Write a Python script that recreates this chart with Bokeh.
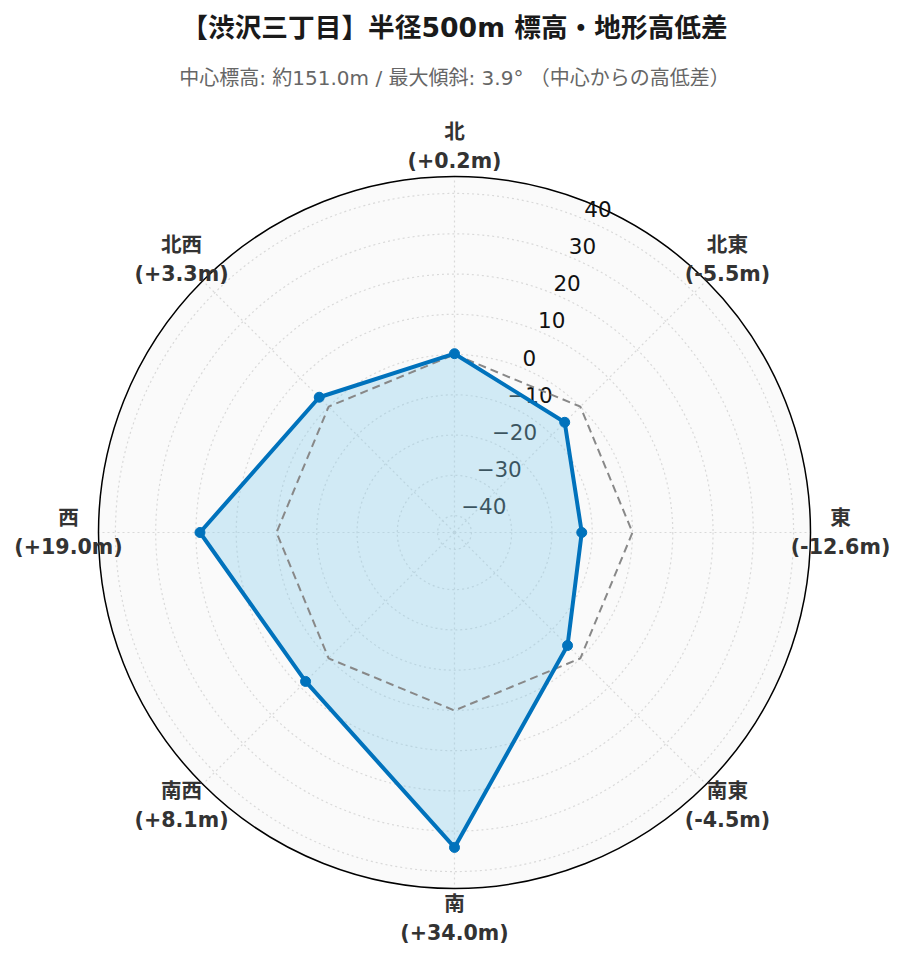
import numpy as np
from bokeh.plotting import figure
from bokeh.models import Range1d
from bokeh.core.properties import value
from bokeh.embed import file_html
from bokeh.resources import INLINE

# ---------------- data ----------------
title_text = "【渋沢三丁目】半径500m 標高・地形高低差"
subtitle_text = "中心標高: 約151.0m / 最大傾斜: 3.9° （中心からの高低差）"
directions = ["北", "北東", "東", "南東", "南", "南西", "西", "北西"]
direction_angles = [0, 45, 90, 135, 180, 225, 270, 315]   # degrees clockwise from north
elevation_diff = [0.2, -5.5, -12.6, -4.5, 34.0, 8.1, 19.0, 3.3]
reference_level = [0, 0, 0, 0, 0, 0, 0, 0]
radial_ticks = [-40, -30, -20, -10, 0, 10, 20, 30, 40]
radial_range = [-44.2, 44.2]
radial_axis_angle = 22.5

# ---------------- layout ----------------
W, H = 890, 950
CX, CY = 454, 532          # centre of polar area, px from frame left / top
R = 356                    # outer radius, px
LABEL_R = 386

FONT = value("DejaVu Sans, Noto Sans CJK JP")


def rad(v):
    v = np.asarray(v, dtype=float)
    return (v - radial_range[0]) / (radial_range[1] - radial_range[0]) * R


def to_xy(r, ang_deg):
    a = np.deg2rad(np.asarray(ang_deg, dtype=float))
    return r * np.sin(a), r * np.cos(a)


p = figure(width=W, height=H, output_backend="svg", toolbar_location=None,
           x_range=Range1d(-CX, W - CX), y_range=Range1d(-(H - CY), CY),
           x_axis_location=None, y_axis_location=None, min_border=0)
p.grid.visible = False
p.outline_line_color = None
p.background_fill_color = "white"

# polar background
p.circle(x=[0], y=[0], radius=R, fill_color="#fafafa", line_color=None)

# radial grid circles
p.circle(x=[0] * len(radial_ticks), y=[0] * len(radial_ticks), radius=rad(radial_ticks),
         fill_color=None, line_color="#d9d9d9", line_width=1.2, line_dash="2 3")

# angular grid lines
gx, gy = to_xy(np.full(len(direction_angles), R), direction_angles)
p.segment(x0=[0] * len(gx), y0=[0] * len(gy), x1=gx, y1=gy,
          line_color="#d9d9d9", line_width=1.2, line_dash="2 3")

# outer circle
p.circle(x=[0], y=[0], radius=R, fill_color=None, line_color="black", line_width=1.5)

# radial tick labels
tr = rad(radial_ticks)
tx, ty = to_xy(tr, [radial_axis_angle] * len(radial_ticks))
tick_labels = [("\u2212" + str(abs(t))) if t < 0 else str(t) for t in radial_ticks]
p.text(x=tx, y=ty + 10.5, text=tick_labels, text_font=FONT, text_font_size="21.5px",
       text_color="#111111", text_align="left", text_baseline="middle")

# data
dr = rad(elevation_diff)
dx, dy = to_xy(dr, direction_angles)
p.patch(x=dx, y=dy, fill_color="skyblue", fill_alpha=0.36, line_color=None)

rr = rad(reference_level)
rx, ry = to_xy(rr, direction_angles)
p.line(x=np.append(rx, rx[0]), y=np.append(ry, ry[0]), line_color="#888888",
       line_width=2, line_dash="8 5")

p.line(x=np.append(dx, dx[0]), y=np.append(dy, dy[0]), line_color="#0072bc",
       line_width=4, line_join="round")
p.scatter(x=dx, y=dy, size=10, fill_color="#0072bc", line_color="#0072bc")

# direction labels
lx, ly = to_xy(np.full(len(direction_angles), LABEL_R), direction_angles)
val_labels = [f"({v:+.1f}m)" for v in elevation_diff]
p.text(x=lx, y=ly + 14.5, text=directions, text_font=FONT, text_font_size="20.6px",
       text_font_style="bold", text_color="#333333", text_align="center",
       text_baseline="middle")
p.text(x=lx, y=ly - 14.5, text=val_labels, text_font=FONT, text_font_size="20.6px",
       text_font_style="bold", text_color="#333333", text_align="center",
       text_baseline="middle")

# titles
p.text(x=[0], y=[CY - 27], text=[title_text], text_font=FONT, text_font_size="26.7px",
       text_font_style="bold", text_color="#1a1a1a", text_align="center",
       text_baseline="middle")
p.text(x=[0], y=[CY - 77], text=[subtitle_text], text_font=FONT, text_font_size="20px",
       text_color="#666666", text_align="center", text_baseline="middle")

open("out.html", "w").write(file_html(p, INLINE))
